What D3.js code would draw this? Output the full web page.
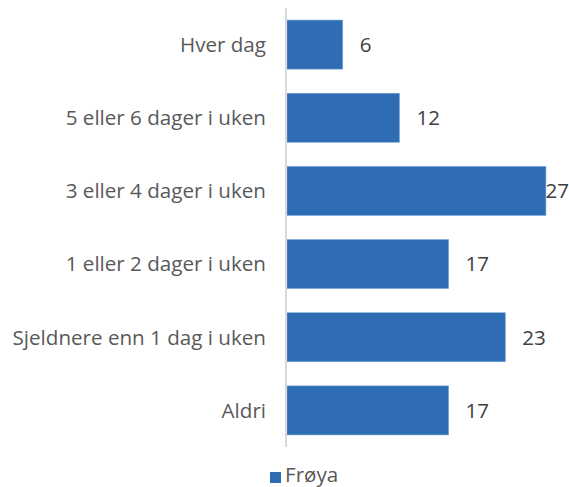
<!DOCTYPE html>
<html>
<head>
<meta charset="utf-8">
<script src="https://cdn.jsdelivr.net/npm/d3@7"></script>
<style>
  html, body { margin: 0; padding: 0; background: #fff; }
  svg { display: block; font-family: "Open Sans", sans-serif; }
</style>
</head>
<body>
<div id="chart"></div>
<script>
const categories = [
  'Hver dag',
  '5 eller 6 dager i uken',
  '3 eller 4 dager i uken',
  '1 eller 2 dager i uken',
  'Sjeldnere enn 1 dag i uken',
  'Aldri'
];
const values = [5.9, 11.9, 27.4, 17.1, 23.1, 17.1];
const seriesName = 'Frøya';

const W = 569, H = 487;
const barColor = '#2e6db4';
const fontSize = 20.6;

const svg = d3.select('#chart').append('svg')
  .attr('width', W).attr('height', H);

const x = d3.scaleLinear()
  .domain([0, 1])
  .range([287, 287 + 9.45]);

const y = d3.scaleBand()
  .domain(categories)
  .range([8, 447])
  .paddingInner(0.33)
  .paddingOuter(0.165);

// category labels
svg.append('g').selectAll('text')
  .data(categories)
  .join('text')
  .attr('x', 266)
  .attr('y', d => y(d) + y.bandwidth() / 2)
  .attr('dy', '0.36em')
  .attr('text-anchor', 'end')
  .attr('font-size', fontSize)
  .attr('fill', '#595959')
  .text(d => d);

// bars
svg.append('g').selectAll('rect')
  .data(values)
  .join('rect')
  .attr('x', x(0))
  .attr('y', (d, i) => y(categories[i]))
  .attr('width', d => x(d) - x(0))
  .attr('height', y.bandwidth())
  .attr('fill', barColor)
  .attr('stroke', '#7aa3d8')
  .attr('stroke-width', 0.6);

// axis line
svg.append('line')
  .attr('x1', 286).attr('x2', 286)
  .attr('y1', 8).attr('y2', 447)
  .attr('stroke', '#d9d9d9')
  .attr('stroke-width', 2);

// value labels
const fmt = d3.format('.0f');
svg.append('g').selectAll('text')
  .data(values)
  .join('text')
  .attr('y', (d, i) => y(categories[i]) + y.bandwidth() / 2)
  .attr('dy', '0.36em')
  .attr('font-size', fontSize)
  .attr('fill', '#404040')
  .text(d => fmt(d))
  .attr('x', function(d) {
    const w = this.getComputedTextLength();
    return Math.min(x(d) + 17, W - w);
  });

// legend
const leg = svg.append('g');
leg.append('rect')
  .attr('x', 270).attr('y', 472)
  .attr('width', 11).attr('height', 11)
  .attr('fill', barColor);
leg.append('text')
  .attr('x', 285).attr('y', 482)
  .attr('font-size', fontSize)
  .attr('fill', '#595959')
  .text(seriesName);
</script>
</body>
</html>
